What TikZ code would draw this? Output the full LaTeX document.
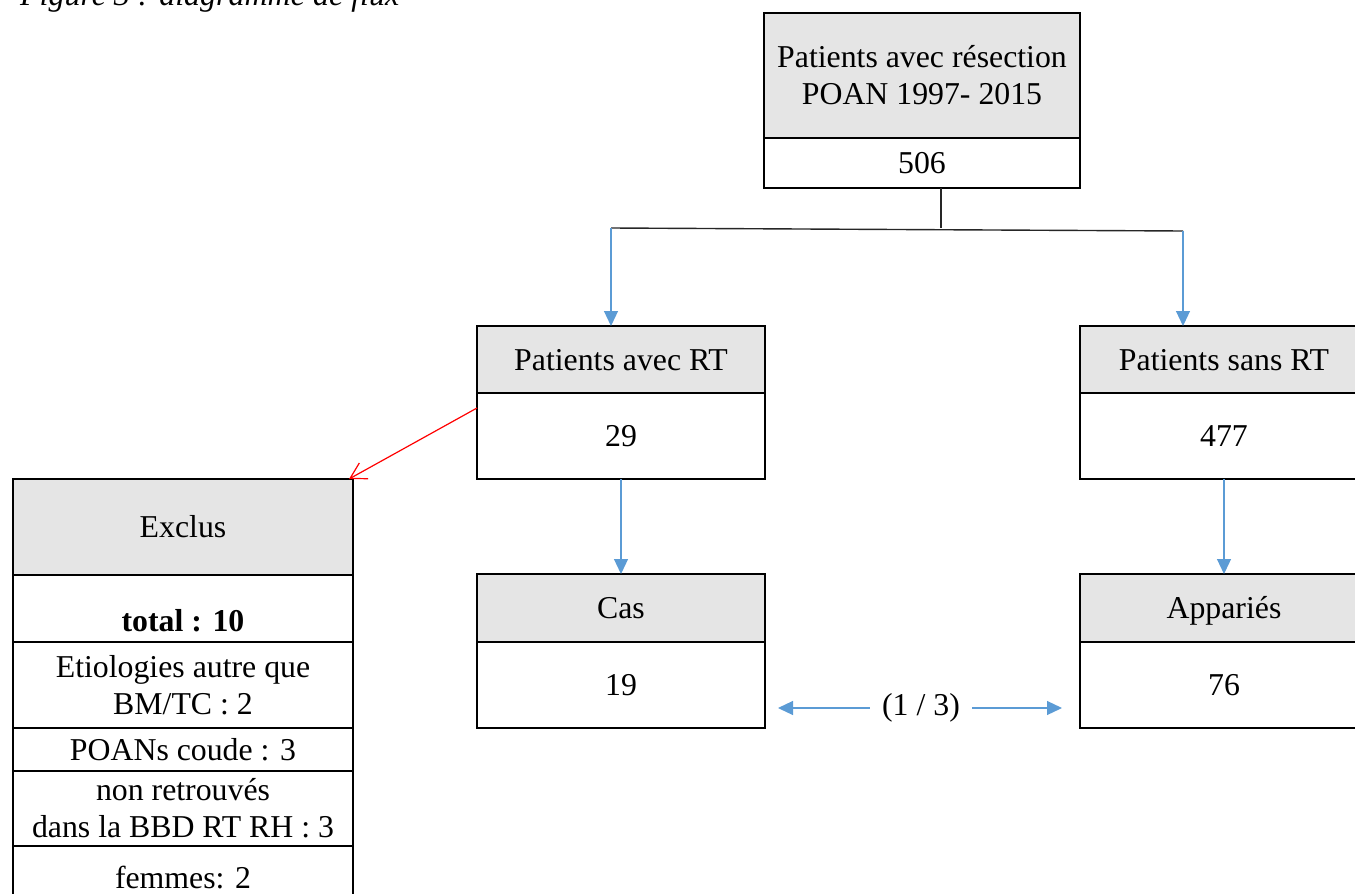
\documentclass[tikz,border=0pt]{standalone}
\usepackage{fontspec}
\setmainfont{Liberation Serif}
\usetikzlibrary{positioning, arrows.meta}

\definecolor{flowblue}{RGB}{91,155,213}

\tikzset{
  box/.style={draw, line width=0.9pt, rectangle, outer sep=0pt, inner sep=2pt,
    align=center, font=\fontsize{15.9}{18.5}\selectfont},
  hdr/.style={box, fill=black!10},
  oneline/.style={text height=14pt, text depth=3.5pt},
  link/.style={line width=0.7pt, black!85},
  flow/.style={draw=flowblue, line width=0.6pt, -{Triangle[length=7.5pt,width=7pt]}},
  exarrow/.style={draw=red, line width=0.6pt, -{Straight Barb[length=7.8pt,width=9pt]}},
}

\begin{document}
\begin{tikzpicture}[x=0.5pt, y=-0.5pt]
\useasboundingbox (0,0) rectangle (1355,894);

\node[anchor=base west, font=\itshape\fontsize{16}{18}\selectfont] (cap) at (13,5)
    {Figure 3 : diagramme de flux};

% top box
\node[hdr, minimum width=158pt, minimum height=62.5pt] (all) at (922,75.5)
    {Patients avec résection\\POAN 1997- 2015};
\node[box, oneline, minimum width=158pt, minimum height=25pt, below=0pt of all] (alln) {506};

% second row
\node[hdr, oneline, minimum width=144pt, minimum height=33.5pt] (rt) at (621,359.5) {Patients avec RT};
\node[box, oneline, minimum width=144pt, minimum height=43pt, below=0pt of rt] (rtn) {29};
\node[hdr, oneline, minimum width=144pt, minimum height=33.5pt] (sans) at (1224,359.5) {Patients sans RT};
\node[box, oneline, minimum width=144pt, minimum height=43pt, below=0pt of sans] (sansn) {477};

% third row
\node[hdr, oneline, minimum width=144pt, minimum height=34pt] (cas) at (621,608) {Cas};
\node[box, oneline, minimum width=144pt, minimum height=43pt, below=0pt of cas] (casn) {19};
\node[hdr, oneline, minimum width=144pt, minimum height=34pt] (app) at (1224,608) {Appariés};
\node[box, oneline, minimum width=144pt, minimum height=43pt, below=0pt of app] (appn) {76};

% excluded
\node[hdr, oneline, minimum width=170pt, minimum height=48pt] (ex) at (183,527) {Exclus};
\node[box, minimum width=170pt, minimum height=33.5pt, text height=26pt, text depth=3.5pt,
    below=0pt of ex] (extot) {\textbf{total : 10}};
\node[box, minimum width=170pt, minimum height=43pt, below=0pt of extot] (exetio)
    {Etiologies autre que\\BM/TC : 2};
\node[box, oneline, minimum width=170pt, minimum height=21pt, below=0pt of exetio] (excoude)
    {POANs coude : 3};
\node[box, minimum width=170pt, minimum height=37.5pt, below=0pt of excoude] (exbbd)
    {non retrouvés\\dans la BBD RT RH : 3};
\node[box, oneline, minimum width=170pt, minimum height=32pt, below=0pt of exbbd] (exfem)
    {femmes: 2};

% connectors
\coordinate (jn) at (941,228);
\coordinate (jl) at (611,228);
\coordinate (jr) at (1183,231);
\draw[link] ([xshift=9.5pt]alln.south) -- (jn);
\draw[link] (jl) -- (jr);
\draw[flow] (jl) -- (jl |- rt.north);
\draw[flow] (jr) -- (jr |- sans.north);
\draw[flow] (rtn.south) -- (cas.north);
\draw[flow] (sansn.south) -- (app.north);
\draw[exarrow] ([yshift=-7.5pt]rtn.north west) -- ([xshift=-2pt]ex.north east);

\node[font=\fontsize{15.9}{18.5}\selectfont, inner xsep=6pt] (ratio) at (921,708) {(1 / 3)};
\draw[flow] (ratio.west) -- ([xshift=6.5pt]ratio.west -| casn.east);
\draw[flow] (ratio.east) -- ([xshift=-9pt]ratio.east -| appn.west);
\end{tikzpicture}
\end{document}
